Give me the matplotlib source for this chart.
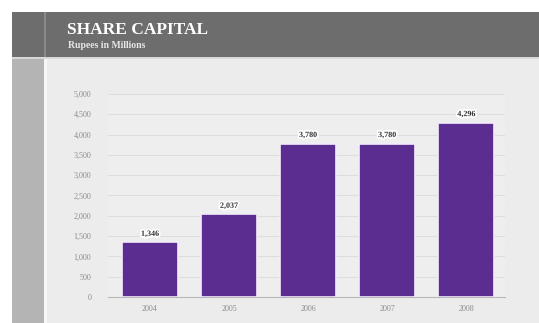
import numpy as np
import matplotlib.pyplot as plt
from matplotlib.patches import Rectangle
import matplotlib.patheffects as pe

years = ['2004', '2005', '2006', '2007', '2008']
capital = [1346, 2037, 3780, 3780, 4296]
value_labels = ['1,346', '2,037', '3,780', '3,780', '4,296']
y_ticks = [0, 500, 1000, 1500, 2000, 2500, 3000, 3500, 4000, 4500, 5000]

plt.rcParams['font.family'] = ['Liberation Serif', 'DejaVu Serif']

fig = plt.figure(figsize=(5.39, 3.23), dpi=100)
fig.patch.set_facecolor('white')

W, H = 539.0, 323.0

def box(x0, y0, x1, y1, color):
    # pixel box, y measured from the top
    fig.add_artist(Rectangle((x0 / W, 1 - y1 / H), (x1 - x0) / W, (y1 - y0) / H,
                             transform=fig.transFigure, color=color, lw=0, zorder=0))

# page background
box(12, 57, 539, 323, '#ececec')
box(12, 57, 44, 323, '#b4b4b4')
box(44, 57, 47, 323, '#f6f6f6')
# header band
box(12, 12, 539, 57, '#6d6d6d')
box(44, 12, 46, 57, '#8a8a8a')
box(12, 57, 539, 59, '#d8d8d8')

fig.text(67 / W, 1 - 30 / H, 'SHARE CAPITAL', color='white', fontsize=12.5,
         fontweight='bold', va='center', ha='left')
fig.text(68 / W, 1 - 45 / H, 'Rupees in Millions', color='#e6e6e6', fontsize=7,
         fontweight='bold', va='center', ha='left')

ax = fig.add_axes([108 / W, 26 / H, 397 / W, 203 / H])
ax.set_facecolor('#eeeeee')
x = np.arange(len(years))
bars = ax.bar(x, capital, width=0.71, color='#5c2d90', edgecolor='#f4ecfb',
              linewidth=1.2, zorder=3)

for xi, v, lab in zip(x, capital, value_labels):
    ax.text(xi, v + 110, lab, ha='center', va='bottom', fontsize=5.8,
            fontweight='bold', color='#333333', zorder=4,
            path_effects=[pe.withStroke(linewidth=2.5, foreground='white')])

ax.set_xlim(-0.53, 4.49)
ax.set_ylim(0, 5000)
ax.set_yticks(y_ticks)
ax.set_yticklabels([f'{t:,}' for t in y_ticks])
ax.set_xticks(x)
ax.set_xticklabels(years)
ax.tick_params(axis='both', length=0, labelsize=5.8, labelcolor='#8c8c8c')
ax.tick_params(axis='y', pad=12)
ax.tick_params(axis='x', pad=6)
ax.yaxis.grid(True, color='#dddddd', linewidth=0.8, zorder=1)
for s in ['top', 'right', 'left']:
    ax.spines[s].set_visible(False)
ax.spines['bottom'].set_color('#b8b8b8')
ax.spines['bottom'].set_linewidth(0.8)

fig.savefig('out.png', dpi=100)
